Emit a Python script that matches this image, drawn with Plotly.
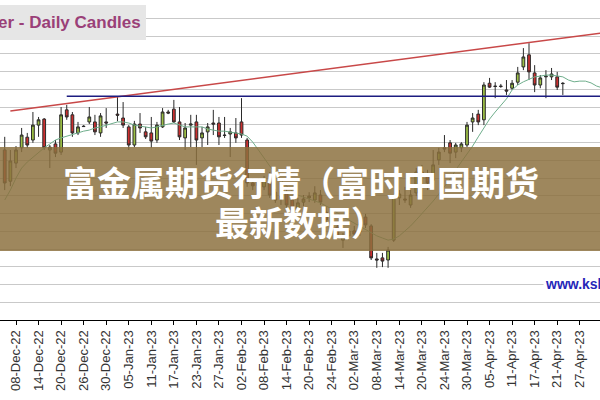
import pandas as pd
import plotly.graph_objects as go

# trading days (weekdays) 06-Dec-22 .. 03-May-23
dates = list(pd.bdate_range("2022-12-06", "2023-05-03").strftime("%d-%b-%y"))

tick_labels = ["08-Dec-22", "14-Dec-22", "20-Dec-22", "26-Dec-22", "30-Dec-22", "05-Jan-23",
               "11-Jan-23", "17-Jan-23", "23-Jan-23", "27-Jan-23", "02-Feb-23", "08-Feb-23",
               "14-Feb-23", "20-Feb-23", "24-Feb-23", "02-Mar-23", "08-Mar-23", "14-Mar-23",
               "20-Mar-23", "24-Mar-23", "30-Mar-23", "05-Apr-23", "11-Apr-23", "17-Apr-23",
               "21-Apr-23", "27-Apr-23"]

open_ = [23.29, 22.41, 22.92, 23.35, 23.65, 23.57, 23.99, 24.16, 23.29, 23.46, 23.23, 24.42, 24.28, 23.77, 23.96, 24.08, 24.08, 23.77, 24.08,
         None, 24.30, 24.19, 23.94, 23.43, 24.02, 23.80, 23.77, 23.57, 23.94, 24.36, 24.44, 24.08, 23.63, 23.99, 24.08, 23.63, 23.80, 24.05, 24.05, 23.71, 23.74,
         23.77, 24.08, 23.57, 22.36, 22.28, 22.25, 22.39, 22.10, 21.91, 22.08, 21.88, 21.66, 21.82, 21.94, 21.88, 22.02, 21.54, 21.43, 21.12, 20.75,
         20.87, 21.01, 20.98, 21.40, 21.15, 20.22, 20.25, 20.19, 20.75, 21.94, 21.91, 21.74, 22.08, 22.67, 22.56, 22.44, 23.01, 23.35, 23.49, 23.23, 23.35, 23.43, 24.08,
         24.30, 24.14, 25.17, 25.09, 25.09, 24.98, 25.03, 25.20, 25.63, 25.97, 25.46, 25.12, 25.35, 25.35, 25.35, 25.17]
high = [23.66, 23.29, 23.40, 23.91, 23.77, 24.36, 24.22, 24.19, 23.43, 23.57, 24.50, 24.56, 24.36, 24.08, 23.99, 24.50, 24.28, 24.33, 24.47,
        None, 24.78, 24.64, 23.99, 24.11, 24.33, 23.94, 24.22, 24.08, 24.47, 24.42, 24.70, 24.50, 24.05, 24.28, 24.28, 23.94, 24.05, 24.42, 24.22, 24.22, 23.91,
        24.19, 24.75, 23.63, 22.50, 22.50, 22.56, 22.67, 22.19, 22.10, 22.22, 21.94, 21.94, 22.02, 22.10, 22.27, 22.16, 21.71, 21.54, 21.26, 20.95,
        21.09, 21.15, 21.26, 21.49, 21.20, 20.39, 20.39, 20.56, 22.02, 22.16, 22.25, 22.16, 22.78, 22.87, 22.73, 23.29, 23.35, 23.71, 23.57, 23.49, 23.51, 24.08, 24.33,
        24.42, 25.20, 25.32, 25.20, 25.15, 25.26, 25.26, 25.63, 26.16, 26.30, 25.68, 25.40, 25.54, 25.60, 25.49, 25.20]
low = [22.16, 22.27, 22.78, 23.23, 23.35, 23.49, 23.66, 23.29, 22.78, 23.09, 23.15, 24.14, 23.66, 23.71, 23.94, 24.02, 23.71, 23.66, 23.91,
       None, 24.10, 23.91, 23.29, 23.37, 23.77, 23.60, 23.35, 23.49, 23.91, 24.30, 24.05, 23.57, 23.29, 23.37, 22.87, 23.37, 23.43, 23.71, 23.43, 23.63, 23.09,
       23.49, 23.63, 22.25, 22.16, 22.10, 22.16, 21.94, 21.80, 21.74, 21.66, 21.51, 21.54, 21.71, 21.82, 21.80, 21.74, 21.20, 21.04, 20.78, 20.53,
       20.75, 20.81, 20.87, 21.09, 20.19, 19.97, 19.99, 19.97, 20.70, 21.74, 21.80, 21.66, 21.99, 22.30, 22.16, 22.36, 22.87, 23.23, 22.92, 23.06, 23.23, 23.37, 23.80,
       23.99, 23.99, 25.04, 24.75, 25.04, 24.84, 24.98, 25.12, 25.54, 25.26, 24.92, 25.03, 24.75, 25.26, 24.98, 24.84]
close = [22.36, 22.98, 23.29, 23.71, 23.43, 23.99, 24.14, 23.35, 23.37, 23.20, 24.28, 24.22, 23.77, 23.94, 23.95, 24.22, 23.80, 24.25, 24.05,
         None, 24.27, 23.99, 23.43, 24.02, 23.91, 23.66, 23.54, 23.99, 24.36, 24.33, 24.08, 23.66, 23.91, 24.02, 23.57, 23.77, 23.94, 24.02, 23.66, 23.70, 23.80,
         23.63, 23.71, 22.36, 22.28, 22.39, 22.44, 22.02, 21.88, 21.99, 21.74, 21.60, 21.80, 21.91, 21.99, 22.08, 21.82, 21.32, 21.15, 20.81, 20.84,
         21.01, 20.92, 21.20, 21.18, 20.25, 20.19, 20.16, 20.47, 21.96, 22.05, 21.88, 22.02, 22.67, 22.59, 22.36, 22.87, 23.23, 23.32, 23.20, 23.43, 23.46, 23.99, 24.19,
         24.08, 25.12, 25.06, 25.08, 25.08, 24.95, 25.17, 25.46, 25.91, 25.49, 25.12, 25.32, 25.37, 25.43, 25.06, 25.16]

moving_avg = [21.88, 22.16, 22.50, 22.78, 22.95, 23.09, 23.23, 23.35, 23.46, 23.57, 23.63, 23.68, 23.74, 23.77, 23.82, 23.85, 23.91, 23.94, 23.99,
              24.05, 24.08, 24.08, 24.05, 23.99, 23.97, 23.94, 23.91, 23.94, 23.99, 24.02, 24.05, 23.99, 23.94, 23.94, 23.94, 23.94, 23.88, 23.85, 23.82, 23.82, 23.80,
              23.77, 23.74, 23.68, 23.51, 23.29, 23.06, 22.84, 22.64, 22.44, 22.27, 22.13, 22.02, 21.96, 21.91, 21.85, 21.80, 21.71, 21.63, 21.52, 21.40,
              21.32, 21.23, 21.15, 21.06, 20.98, 20.87, 20.81, 20.75, 20.78, 20.87, 21.01, 21.15, 21.32, 21.49, 21.66, 21.85, 22.05, 22.25, 22.47, 22.73, 22.95, 23.18, 23.40,
              23.66, 23.91, 24.16, 24.36, 24.53, 24.73, 24.98, 25.12, 25.21, 25.29, 25.35, 25.37, 25.40, 25.40, 25.37, 25.35,
              25.26, 25.21, 25.23, 25.23, 25.18, 25.09, 25.04]

trend_x = ["07-Dec-22", "03-May-23"]
trend_y = [24.39, 26.59]
level_x = ["21-Dec-22", "03-May-23"]
level_y = [24.80, 24.80]

fig = go.Figure()
fig.add_trace(go.Scatter(x=dates, y=moving_avg, mode="lines",
                         line=dict(color="#6fae8c", width=1), hoverinfo="skip"))
fig.add_trace(go.Scatter(x=trend_x, y=trend_y, mode="lines",
                         line=dict(color="#c84848", width=1.5), hoverinfo="skip"))
fig.add_trace(go.Scatter(x=level_x, y=level_y, mode="lines",
                         line=dict(color="#1c1c80", width=1.5), hoverinfo="skip"))
fig.add_trace(go.Candlestick(
    x=dates[:len(open_)], open=open_, high=high, low=low, close=close,
    increasing=dict(line=dict(color="#2a2a2a", width=1), fillcolor="#9cbf45"),
    decreasing=dict(line=dict(color="#2a2a2a", width=1), fillcolor="#cc2f2f"),
    whiskerwidth=0,
))

px_per = 5.6375
left = 2 - 16 / px_per
fig.update_layout(
    width=600, height=400,
    margin=dict(l=0, r=0, t=0, b=80),
    paper_bgcolor="white", plot_bgcolor="white",
    showlegend=False,
    xaxis=dict(type="category", categoryorder="array", categoryarray=dates,
               range=[left, left + 600 / px_per],
               tickmode="array", tickvals=tick_labels, ticktext=tick_labels,
               tickangle=-90, ticks="outside", ticklen=4, tickcolor="#000",
               showline=True, linecolor="#000", linewidth=1.2, showgrid=False,
               tickfont=dict(family="Liberation Sans, Arial", size=13, color="#333"),
               rangeslider=dict(visible=False), fixedrange=True),
    yaxis=dict(range=[18.50, 27.515], tick0=19, dtick=0.5, showgrid=True,
               gridcolor="#c9c9c9", gridwidth=1, showticklabels=False,
               zeroline=False, showline=False, fixedrange=True),
    shapes=[
        dict(type="rect", xref="paper", yref="paper", x0=0, x1=1,
             y0=1 - 251 / 320, y1=1 - 147 / 320, layer="above",
             fillcolor="rgba(140,112,62,0.84)", line=dict(width=0)),
        dict(type="rect", xref="paper", yref="paper", x0=0, x1=146 / 600,
             y0=1 - 40 / 320, y1=1 - 5 / 320, layer="above",
             fillcolor="#e6e6e6", line=dict(width=0)),
    ],
    annotations=[
        dict(text="er - Daily Candles", xref="paper", yref="paper",
             x=143 / 600, y=1 - 22.5 / 320, xanchor="right", yanchor="middle",
             showarrow=False,
             font=dict(family="Liberation Sans, Arial", size=17, color="#9a4078", weight="bold")),
        dict(text="www.kshitij.com", xref="paper", yref="paper",
             x=543 / 600, y=1 - 284 / 320, xanchor="left", yanchor="middle",
             showarrow=False, bgcolor="white",
             font=dict(family="Liberation Sans, Arial", size=14, color="#2626b8", weight="bold")),
        dict(text="富金属期货行情（富时中国期货", xref="paper", yref="paper",
             x=0.502, y=1 - 181 / 320, xanchor="center", yanchor="middle",
             showarrow=False,
             font=dict(family="Noto Sans CJK SC", size=34, color="white", weight="bold")),
        dict(text="最新数据）", xref="paper", yref="paper",
             x=0.5, y=1 - 221 / 320, xanchor="center", yanchor="middle",
             showarrow=False,
             font=dict(family="Noto Sans CJK SC", size=34, color="white", weight="bold")),
    ],
)

fig.write_html("out.html", config={"displayModeBar": False},
               post_script="document.body.style.margin='0';document.body.style.overflow='hidden';")
